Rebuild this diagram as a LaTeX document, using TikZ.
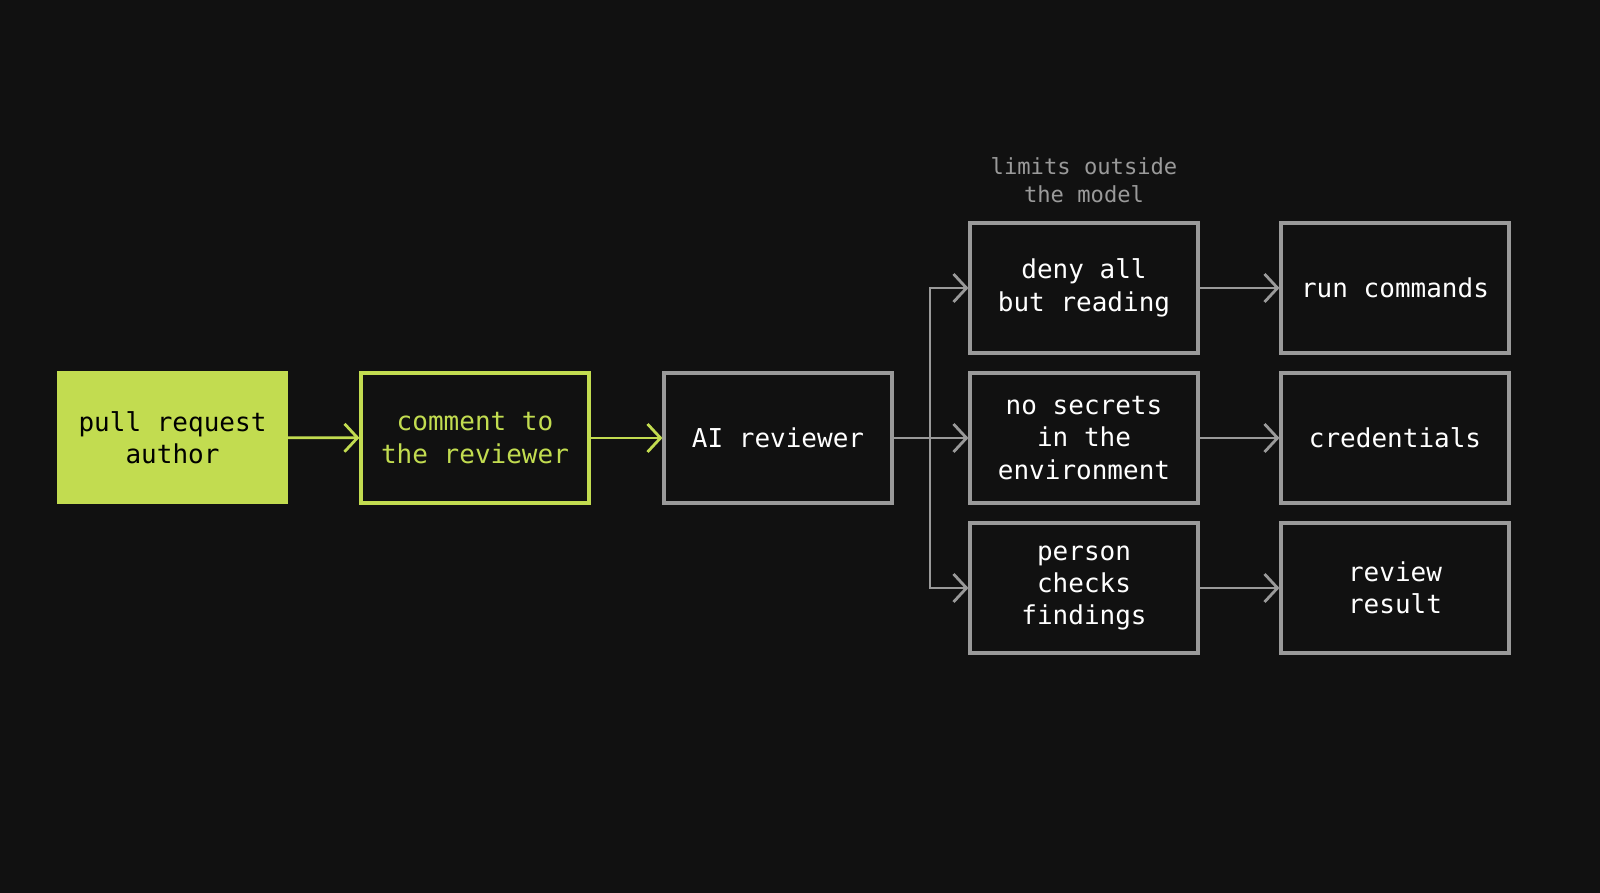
\documentclass[tikz,border=0pt]{standalone}
\usepackage{fontspec}
\setmonofont{DejaVu Sans Mono}
\usetikzlibrary{positioning}
\usetikzlibrary{arrows.meta}
\definecolor{bg}{HTML}{111111}
\definecolor{lime}{HTML}{C2DC50}
\definecolor{edge}{HTML}{9A9A9A}
\begin{document}
\begin{tikzpicture}[
  font=\ttfamily\fontsize{7.4}{9.2}\selectfont,
  box/.style={draw=edge, line width=0.9pt, align=center, minimum width=2.28cm, minimum height=1.3cm, inner sep=0pt, text=white},
  hot/.style={box, draw=lime, text=lime},
  src/.style={box, draw=lime, fill=lime, text=black},
  arrow/.style={-{Straight Barb[length=1.3mm, width=2.8mm]}, line width=0.8pt, draw=edge},
  hotarrow/.style={arrow, draw=lime},
  note/.style={align=center, text=edge, font=\ttfamily\fontsize{6.3}{8}\selectfont}
]
\fill[bg] (0,0) rectangle (16,-8.93);
\useasboundingbox (0,0) rectangle (16,-8.93);

\node[src] (author) at (1.725,-4.375) {pull request\\author};
\node[hot] (comment) at (4.75,-4.38) {comment to\\the reviewer};
\node[box] (ai) at (7.78,-4.38) {AI reviewer};

\node[box] (deny) at (10.84,-2.88) {deny all\\but reading};
\node[box] (secrets) at (10.84,-4.38) {no secrets\\in the\\environment};
\node[box] (person) at (10.84,-5.88) {person\\checks\\findings};

\node[box] (run) at (13.95,-2.88) {run commands};
\node[box] (creds) at (13.95,-4.38) {credentials};
\node[box] (result) at (13.95,-5.88) {review\\result};

\node[note, above=0.06cm of deny] (limits) {limits outside\\the model};

\coordinate (split) at (9.30,-4.38);

\draw[hotarrow] (author) -- (comment);
\draw[hotarrow] (comment) -- (ai);
\draw[arrow] (ai) -- (secrets);
\draw[arrow] (split) |- (deny);
\draw[arrow] (split) |- (person);
\draw[arrow] (deny) -- (run);
\draw[arrow] (secrets) -- (creds);
\draw[arrow] (person) -- (result);
\end{tikzpicture}
\end{document}
